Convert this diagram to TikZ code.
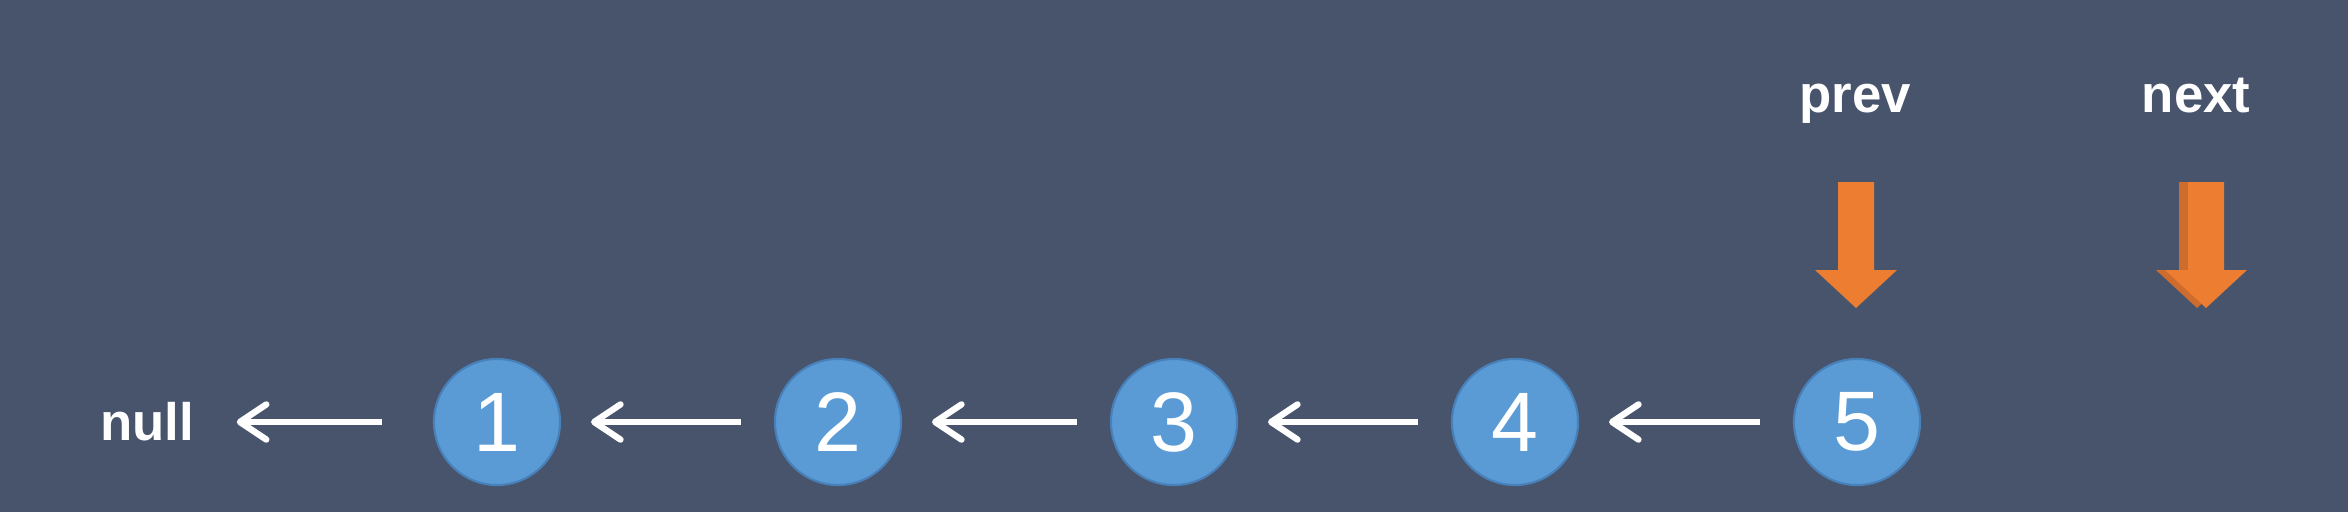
\documentclass[tikz,border=0pt]{standalone}
\usepackage{fontspec}
\setmainfont{Liberation Sans}
\usetikzlibrary{arrows.meta,calc}
\definecolor{bg}{RGB}{71,84,108}
\definecolor{nodeblue}{RGB}{91,155,213}
\definecolor{nodeedge}{RGB}{72,128,185}
\definecolor{ptrorange}{RGB}{237,125,49}
\definecolor{ptrghost}{RGB}{205,108,45}
\begin{document}
\begin{tikzpicture}[x=0.01cm,y=-0.01cm,
  listnode/.style={circle,fill=nodeblue,draw=nodeedge,line width=0.6pt,minimum size=1.26cm,inner sep=0pt,text=white,font=\fontsize{24}{24}\selectfont},
  ptrlabel/.style={text=white,font=\bfseries\fontsize{15}{15}\selectfont,inner sep=0pt,anchor=base},
  link/.style={draw=white,line width=1.6pt,-{Straight Barb[length=7.5pt,width=10pt,line width=1.8pt,round]},shorten <=9.5pt,shorten >=8.5pt},
  ptr/.pic={\fill (-18,0) -- (18,0) -- (18,88) -- (41,88) -- (0,126) -- (-41,88) -- (-18,88) -- cycle;}
  ]
\fill[bg] (0,0) rectangle (2348,512);
\useasboundingbox (0,0) rectangle (2348,512);
% list
\node[ptrlabel] (null) at (147,440) {null};
\node[listnode] (n1) at (497,422) {1};
\node[listnode] (n2) at (838,422) {2};
\node[listnode] (n3) at (1174,422) {3};
\node[listnode] (n4) at (1515,422) {4};
\node[listnode] (n5) at (1857,422) {5};
\draw[link,shorten <=14.5pt,shorten >=12pt] (n1) -- (null.east |- n1);
\draw[link] (n2) -- (n1);
\draw[link] (n3) -- (n2);
\draw[link] (n4) -- (n3);
\draw[link] (n5) -- (n4);
% pointers
\node[ptrlabel] (prev) at (1855,112) {prev};
\node[ptrlabel] (next) at (2196,112) {next};
\coordinate (prevptr) at (1856,182);
\coordinate (nextghost) at (2197,182);
\coordinate (nextptr) at (2206,182);
\pic[fill=ptrorange] at (prevptr) {ptr};
\pic[fill=ptrghost] at (nextghost) {ptr};
\pic[fill=ptrorange] at (nextptr) {ptr};
\end{tikzpicture}
\end{document}
